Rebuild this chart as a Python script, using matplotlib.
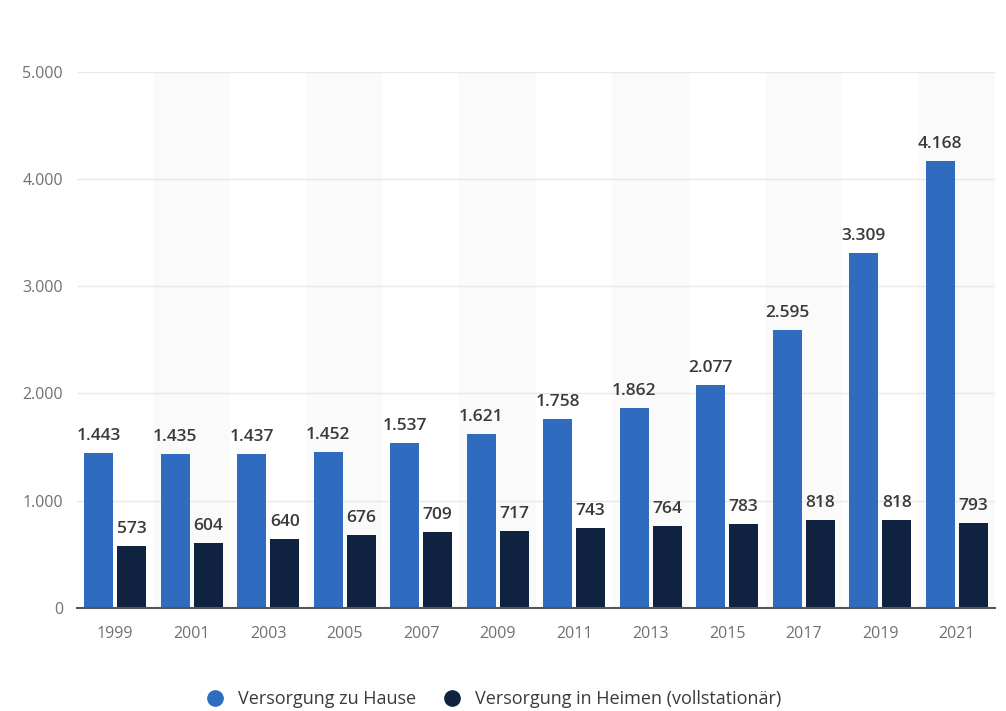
import numpy as np
import matplotlib
matplotlib.use('Agg')
import matplotlib.pyplot as plt
from matplotlib.lines import Line2D

plt.rcParams['font.family'] = ['Open Sans', 'DejaVu Sans']

years = ['1999', '2001', '2003', '2005', '2007', '2009', '2011', '2013', '2015', '2017', '2019', '2021']
zu_hause = [1443, 1435, 1437, 1452, 1537, 1621, 1758, 1862, 2077, 2595, 3309, 4168]
in_heimen = [573, 604, 640, 676, 709, 717, 743, 764, 783, 818, 818, 793]
series_names = ['Versorgung zu Hause', 'Versorgung in Heimen (vollstationär)']

blue = '#2f6cc0'
navy = '#0f223f'

def fmt(v):
    return f'{v:,}'.replace(',', '.')

fig = plt.figure(figsize=(10.06, 7.11), dpi=100)
ax = fig.add_axes([0.0765, 0.145, 0.9125, 0.754])

x = np.arange(len(years))
w = 0.38
off = 0.215

# alternating background bands (very faint)
for i in x:
    if i % 2 == 1:
        ax.axvspan(i - 0.5, i + 0.5, color='#fafafa', zorder=0, lw=0)

b1 = ax.bar(x - off, zu_hause, w, color=blue, zorder=3)
b2 = ax.bar(x + off, in_heimen, w, color=navy, zorder=3)

for bars, vals in ((b1, zu_hause), (b2, in_heimen)):
    for r, v in zip(bars, vals):
        ax.text(r.get_x() + r.get_width() / 2, v + 85, fmt(v), ha='center', va='bottom',
                fontsize=12.5, fontweight='semibold', color='#3a3a3a', zorder=4)

ax.set_xlim(-0.5, 11.5)
ax.set_ylim(0, 5000)
ax.set_yticks(range(0, 5001, 1000))
ax.set_yticklabels([fmt(v) for v in range(0, 5001, 1000)])
ax.set_xticks(x)
ax.set_xticklabels(years)
ax.tick_params(axis='both', length=0, labelsize=11.5, colors='#707070')
ax.tick_params(axis='x', pad=13)
ax.tick_params(axis='y', pad=10)
ax.grid(axis='y', color='#e8e8e8', lw=1, zorder=1)
for s in ['top', 'right', 'left']:
    ax.spines[s].set_visible(False)
ax.spines['bottom'].set_color('#555555')
ax.spines['bottom'].set_linewidth(1.5)
ax.spines['bottom'].set_zorder(5)

handles = [Line2D([], [], marker='o', ls='', color=blue, markersize=11),
           Line2D([], [], marker='o', ls='', color=navy, markersize=11)]
fig.legend(handles, series_names, loc='center', bbox_to_anchor=(0.486, 0.017), ncol=2,
           frameon=False, fontsize=13, handletextpad=0.25, columnspacing=1.0,
           labelcolor='#3a3a3a')

fig.savefig('out.png', dpi=100, facecolor='white')
